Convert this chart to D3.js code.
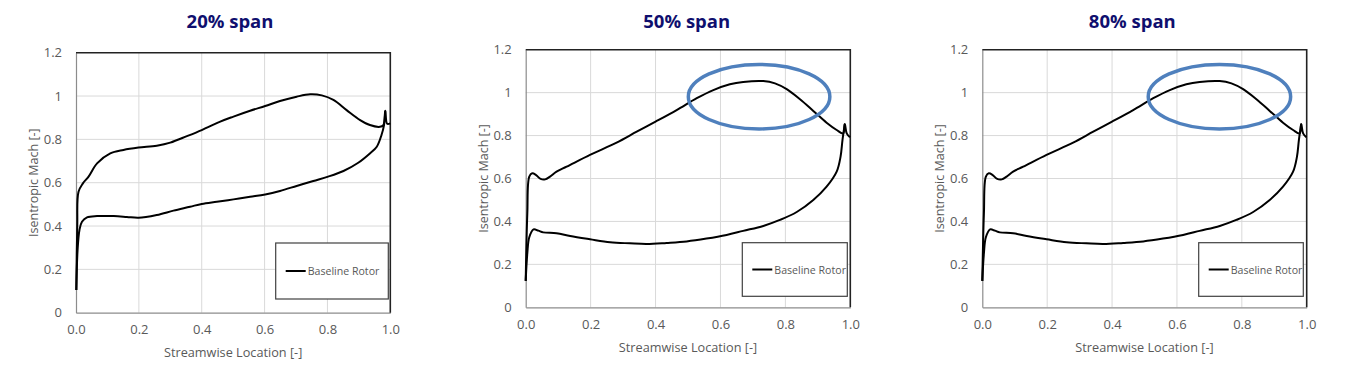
<!DOCTYPE html>
<html>
<head>
<meta charset="utf-8">
<script src="https://cdn.jsdelivr.net/npm/d3@7"></script>
<style>
  html, body { margin: 0; padding: 0; background: #fff; }
  svg { display: block; }
</style>
</head>
<body>
<svg id="chart" width="1351" height="372"></svg>
<script>
// ---------------- DATA ----------------
const panelTitles = ["20% span", "50% span", "80% span"];
const seriesName = "Baseline Rotor";
const xTickValues = [0, 0.2, 0.4, 0.6, 0.8, 1.0];
const xTickLabels = ["0.0", "0.2", "0.4", "0.6", "0.8", "1.0"];
const yTickValues = [0, 0.2, 0.4, 0.6, 0.8, 1.0, 1.2];
const yTickLabels = ["0", "0.2", "0.4", "0.6", "0.8", "1", "1.2"];
const xAxisTitle = "Streamwise Location [-]";
const yAxisTitle = "Isentropic Mach [-]";

// 20% span - suction (upper) side
const span20UpperX = [0.001, 0.004, 0.008, 0.022, 0.04, 0.067, 0.109, 0.151, 0.199, 0.257, 0.3, 0.353, 0.4, 0.459, 0.501, 0.554, 0.602, 0.649, 0.702, 0.745, 0.782, 0.819, 0.861, 0.904, 0.935, 0.967, 0.978, 0.984, 0.99, 1.0];
const span20UpperY = [0.105, 0.40, 0.558, 0.597, 0.628, 0.689, 0.735, 0.751, 0.762, 0.771, 0.785, 0.815, 0.843, 0.882, 0.905, 0.932, 0.954, 0.977, 0.997, 1.008, 1.003, 0.982, 0.935, 0.889, 0.866, 0.858, 0.866, 0.932, 0.872, 0.874];
// 20% span - pressure (lower) side
const span20LowerX = [0.001, 0.005, 0.011, 0.019, 0.035, 0.067, 0.12, 0.162, 0.199, 0.257, 0.31, 0.363, 0.4, 0.448, 0.501, 0.554, 0.602, 0.649, 0.702, 0.755, 0.802, 0.851, 0.898, 0.935, 0.957, 0.972, 0.98, 0.984];
const span20LowerY = [0.105, 0.289, 0.382, 0.42, 0.44, 0.446, 0.446, 0.442, 0.438, 0.451, 0.471, 0.489, 0.502, 0.512, 0.523, 0.535, 0.546, 0.562, 0.585, 0.608, 0.628, 0.654, 0.692, 0.735, 0.766, 0.82, 0.866, 0.932];

// 50% span
const span50UpperX = [0.0, 0.005, 0.011, 0.02, 0.032, 0.046, 0.06, 0.075, 0.095, 0.126, 0.198, 0.28, 0.342, 0.4, 0.465, 0.527, 0.578, 0.629, 0.67, 0.732, 0.768, 0.804, 0.845, 0.886, 0.927, 0.958, 0.978, 0.983, 0.989, 0.999];
const span50UpperY = [0.123, 0.438, 0.609, 0.624, 0.616, 0.598, 0.596, 0.609, 0.632, 0.655, 0.71, 0.767, 0.818, 0.865, 0.919, 0.974, 1.012, 1.039, 1.05, 1.054, 1.043, 1.016, 0.969, 0.915, 0.86, 0.826, 0.81, 0.854, 0.81, 0.792];
const span50LowerX = [0.0, 0.005, 0.011, 0.024, 0.039, 0.054, 0.095, 0.137, 0.198, 0.26, 0.321, 0.373, 0.434, 0.496, 0.557, 0.619, 0.67, 0.732, 0.783, 0.835, 0.886, 0.927, 0.958, 0.97, 0.976, 0.983];
const span50LowerY = [0.123, 0.252, 0.326, 0.363, 0.357, 0.349, 0.345, 0.332, 0.317, 0.303, 0.298, 0.295, 0.3, 0.307, 0.32, 0.337, 0.356, 0.379, 0.407, 0.444, 0.5, 0.562, 0.632, 0.702, 0.78, 0.854];

// 80% span
const span80UpperX = [0.0, 0.005, 0.011, 0.02, 0.032, 0.046, 0.06, 0.075, 0.095, 0.126, 0.198, 0.28, 0.342, 0.4, 0.465, 0.527, 0.578, 0.629, 0.67, 0.732, 0.768, 0.804, 0.845, 0.886, 0.927, 0.958, 0.978, 0.983, 0.989, 0.999];
const span80UpperY = [0.123, 0.438, 0.609, 0.624, 0.616, 0.598, 0.596, 0.609, 0.632, 0.655, 0.71, 0.767, 0.818, 0.865, 0.919, 0.974, 1.012, 1.039, 1.05, 1.054, 1.043, 1.016, 0.969, 0.915, 0.86, 0.826, 0.81, 0.854, 0.81, 0.792];
const span80LowerX = [0.0, 0.005, 0.011, 0.024, 0.039, 0.054, 0.095, 0.137, 0.198, 0.26, 0.321, 0.373, 0.434, 0.496, 0.557, 0.619, 0.67, 0.732, 0.783, 0.835, 0.886, 0.927, 0.958, 0.97, 0.976, 0.983];
const span80LowerY = [0.123, 0.252, 0.326, 0.363, 0.357, 0.349, 0.345, 0.332, 0.317, 0.303, 0.298, 0.295, 0.3, 0.307, 0.32, 0.337, 0.356, 0.379, 0.407, 0.444, 0.5, 0.562, 0.632, 0.702, 0.78, 0.854];

// highlight ellipses (data coordinates: cx, cy, rx, ry); none on 20% span
const highlightCx = [null, 0.719, 0.731];
const highlightCy = [null, 0.981, 0.981];
const highlightRx = [null, 0.218, 0.2195];
const highlightRy = [null, 0.150, 0.150];

// ---------------- LAYOUT ----------------
const panels = [
  { left: 76,    right: 390.3,  top: 52.7, bottom: 312.7, titleX: 230,    legend: [275.7, 243, 388.3, 299],
    upper: [span20UpperX, span20UpperY], lower: [span20LowerX, span20LowerY] },
  { left: 525.7, right: 850.3,  top: 49.7, bottom: 307.3, titleX: 686.7,  legend: [742.3, 242.7, 847.3, 296.3],
    upper: [span50UpperX, span50UpperY], lower: [span50LowerX, span50LowerY] },
  { left: 982.3, right: 1306.7, top: 49.7, bottom: 307.3, titleX: 1132.3, legend: [1198.7, 242.7, 1303.3, 296.3],
    upper: [span80UpperX, span80UpperY], lower: [span80LowerX, span80LowerY] }
];

const FONT = "'Open Sans', 'Noto Sans', sans-serif";
const svg = d3.select("#chart");

panels.forEach((p, i) => {
  const x = d3.scaleLinear().domain([0, 1]).range([p.left, p.right]);
  const y = d3.scaleLinear().domain([0, 1.2]).range([p.bottom, p.top]);
  const g = svg.append("g");

  // title
  g.append("text")
    .attr("x", p.titleX).attr("y", 20.7)
    .attr("text-anchor", "middle").attr("dominant-baseline", "central")
    .attr("font-family", FONT).attr("font-weight", 700).attr("font-size", 18.5)
    .attr("fill", "#0f0f6e")
    .text(panelTitles[i]);

  // gridlines
  g.append("g").selectAll("line.v").data(xTickValues.slice(1, -1)).join("line")
    .attr("x1", d => x(d)).attr("x2", d => x(d))
    .attr("y1", y(0)).attr("y2", y(1.2))
    .attr("stroke", "#d9d9d9").attr("stroke-width", 1);
  g.append("g").selectAll("line.h").data(yTickValues.slice(1, -1)).join("line")
    .attr("x1", x(0)).attr("x2", x(1))
    .attr("y1", d => y(d)).attr("y2", d => y(d))
    .attr("stroke", "#d9d9d9").attr("stroke-width", 1);

  // axes (d3 axis, no ticks)
  const xAxis = d3.axisBottom(x).tickValues(xTickValues).tickSize(0).tickPadding(12)
    .tickFormat((d, k) => xTickLabels[k]);
  const gx = g.append("g").attr("transform", `translate(0,${y(0)})`).call(xAxis);
  const yAxis = d3.axisLeft(y).tickValues(yTickValues).tickSize(0).tickPadding(14)
    .tickFormat((d, k) => yTickLabels[k]);
  const gy = g.append("g").attr("transform", `translate(${x(0)},0)`).call(yAxis);
  [gx, gy].forEach(a => {
    a.select(".domain").attr("stroke", "#8c8c8c").attr("stroke-width", 1.2);
    a.selectAll("text").attr("font-family", FONT).attr("font-size", 13).attr("fill", "#595959");
  });
  gx.selectAll("text").attr("dy", "0.71em");

  // top/right border (chart frame)
  g.append("path")
    .attr("d", `M${x(0)},${y(1.2)}H${x(1)}V${y(0)}`)
    .attr("fill", "none").attr("stroke", "#222").attr("stroke-width", 1.6);

  // axis titles
  g.append("text")
    .attr("x", (x(0) + x(1)) / 2).attr("y", y(0) + 39.5)
    .attr("text-anchor", "middle").attr("dominant-baseline", "central")
    .attr("font-family", FONT).attr("font-size", 12.7).attr("fill", "#595959")
    .text(xAxisTitle);
  g.append("text")
    .attr("transform", `translate(${x(0) - 42.5},${(y(0) + y(1.2)) / 2}) rotate(-90)`)
    .attr("text-anchor", "middle").attr("dominant-baseline", "central")
    .attr("font-family", FONT).attr("font-size", 12.5).attr("fill", "#595959")
    .text(yAxisTitle);

  // curves
  const line = d3.line().x(d => x(d[0])).y(d => y(d[1])).curve(d3.curveCatmullRom.alpha(0.5));
  [p.upper, p.lower].forEach(s => {
    const pts = s[0].map((xv, k) => [xv, s[1][k]]);
    g.append("path").datum(pts).attr("d", line)
      .attr("fill", "none").attr("stroke", "#000").attr("stroke-width", 2)
      .attr("stroke-linejoin", "round");
  });

  // legend
  const [lx0, ly0, lx1, ly1] = p.legend;
  g.append("rect").attr("x", lx0).attr("y", ly0).attr("width", lx1 - lx0).attr("height", ly1 - ly0)
    .attr("fill", "#fff").attr("stroke", "#404040").attr("stroke-width", 1.2);
  const ly = (ly0 + ly1) / 2;
  g.append("line").attr("x1", lx0 + 10).attr("x2", lx0 + 30).attr("y1", ly).attr("y2", ly)
    .attr("stroke", "#000").attr("stroke-width", 2);
  g.append("text").attr("x", lx0 + 32).attr("y", ly)
    .attr("dominant-baseline", "central")
    .attr("font-family", FONT).attr("font-size", 10.6).attr("fill", "#595959")
    .text(seriesName);

  // highlight ellipse
  if (highlightCx[i] !== null) {
    g.append("ellipse")
      .attr("cx", x(highlightCx[i])).attr("cy", y(highlightCy[i]))
      .attr("rx", x(highlightRx[i]) - x(0)).attr("ry", y(0) - y(highlightRy[i]))
      .attr("fill", "none").attr("stroke", "#4f80bd").attr("stroke-width", 3.5);
  }
});
</script>
</body>
</html>
